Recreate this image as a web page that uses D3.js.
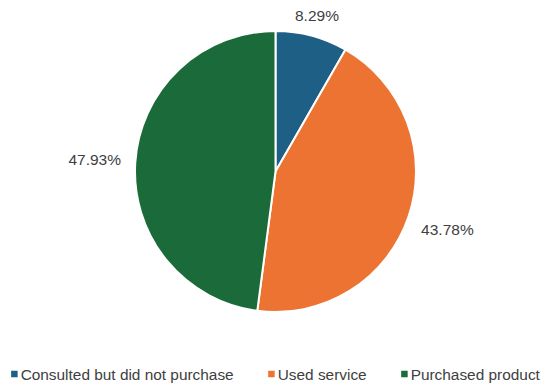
<!DOCTYPE html>
<html>
<head>
<meta charset="utf-8">
<script src="https://cdn.jsdelivr.net/npm/d3@7"></script>
<style>
  html, body { margin: 0; padding: 0; background: #fff; }
  svg { display: block; }
  text { font-family: "Liberation Sans", Arial, sans-serif; fill: #404040; }
</style>
</head>
<body>
<svg id="chart" width="547" height="385"></svg>
<script>
// Share of visitors by outcome (percent)
const categories = ["Consulted but did not purchase", "Used service", "Purchased product"];
const shares = [8.29, 43.78, 47.93];
const colors = ["#1d5f85", "#ec7331", "#1a6b39"];

const width = 547, height = 385;
const cx = 275.5, cy = 171.5, radius = 140.5;

const svg = d3.select("#chart");

const pie = d3.pie().sort(null).value(d => d.value);
const data = pie(categories.map((c, i) => ({ name: c, value: shares[i], color: colors[i] })));
const arc = d3.arc().innerRadius(0).outerRadius(radius);

const g = svg.append("g").attr("transform", `translate(${cx},${cy})`);

g.selectAll("path.slice")
  .data(data)
  .join("path")
  .attr("class", "slice")
  .attr("d", arc)
  .attr("fill", d => d.data.color)
  .attr("stroke", "#fff")
  .attr("stroke-width", 2)
  .attr("stroke-linejoin", "round");

// Value labels just outside each slice, pushed out by their own half-size
const fmt = d => d.toFixed(2) + "%";
const labelSize = 15.5;
const labels = g.selectAll("text.value")
  .data(data)
  .join("text")
  .attr("class", "value")
  .attr("font-size", labelSize)
  .attr("text-anchor", "middle")
  .attr("dominant-baseline", "central")
  .text(d => fmt(d.data.value));

labels.each(function (d) {
  const w = this.getComputedTextLength();
  const h = labelSize;
  const a = (d.startAngle + d.endAngle) / 2;
  const s = Math.sin(a), c = Math.cos(a);
  const gap = 5 + 9 * Math.abs(s);
  const dist = radius + gap + Math.abs(s) * w / 2 + Math.abs(c) * h / 2;
  d3.select(this).attr("x", s * dist).attr("y", -c * dist);
});

// Legend along the bottom, centred under the chart
const legendY = 374;
const legendSize = 15.4;
const sw = 6.5, swGap = 3, itemGap = 34.5;
const legend = svg.append("g");
const items = legend.selectAll("g.item")
  .data(data)
  .join("g")
  .attr("class", "item");
items.append("rect")
  .attr("width", sw).attr("height", sw)
  .attr("y", legendY - sw / 2)
  .attr("fill", d => d.data.color);
items.append("text")
  .attr("x", sw + swGap)
  .attr("y", legendY)
  .attr("dominant-baseline", "central")
  .attr("font-size", legendSize)
  .text(d => d.data.name);

let xPos = 0;
items.each(function () {
  const t = d3.select(this).select("text").node().getComputedTextLength();
  d3.select(this).attr("transform", `translate(${xPos},0)`);
  xPos += sw + swGap + t + itemGap;
});
const legendWidth = xPos - itemGap;
legend.attr("transform", `translate(${cx - legendWidth / 2},0)`);
</script>
</body>
</html>
